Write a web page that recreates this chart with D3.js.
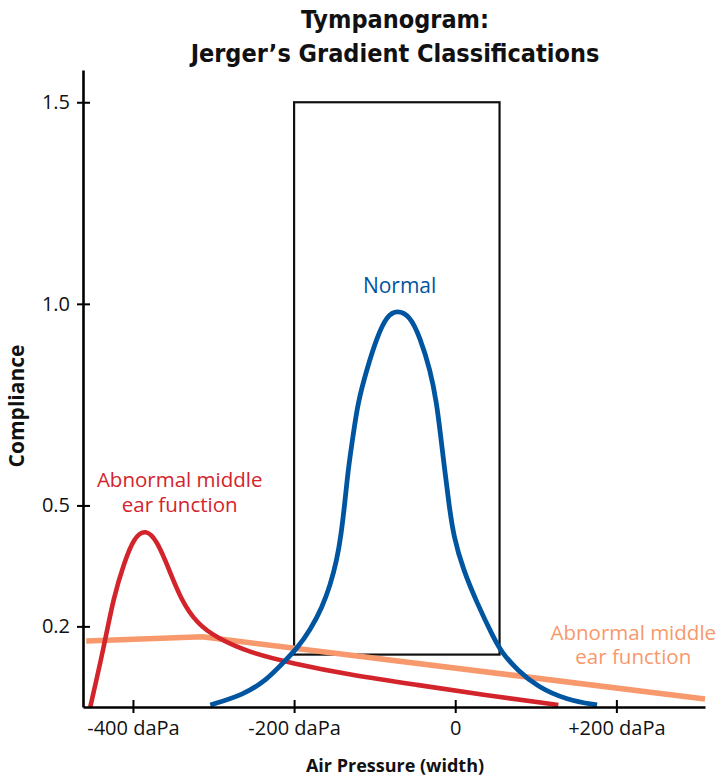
<!DOCTYPE html>
<html>
<head>
  <meta charset="utf-8">
  <title>Tympanogram</title>
  <script src="https://cdn.jsdelivr.net/npm/d3@7"></script>
  <style>
    body { margin: 0; background: #fff; }
    svg text { font-family: "Open Sans", sans-serif; }
    .titulo { font-family: "Liberation Sans Narrow", "DejaVu Sans Condensed", sans-serif; font-weight: bold; font-size: 25px; fill: #111; }
  </style>
</head>
<body>
<div id="grafico"></div>
<script>
// valores (daPa, compliance)
var normalX = [-304, -263, -234, -214, -196, -180, -165, -155, -147, -142, -137, -133, -127, -121, -110, -97, -85, -72,
               -56, -44, -31, -23, -18, -13, -8, -2, 10, 27, 47, 58, 77, 102, 139, 176];
var normalY = [0.005, 0.030, 0.067, 0.109, 0.146, 0.191, 0.248, 0.303, 0.365, 0.422, 0.506, 0.588, 0.670, 0.754, 0.836, 0.918, 0.970, 0.985,
               0.970, 0.918, 0.836, 0.754, 0.670, 0.588, 0.506, 0.422, 0.340, 0.258, 0.174, 0.134, 0.092, 0.050, 0.017, 0.005];

var rojoX = [-453, -436, -424, -411, -399, -384, -370, -355, -340, -321, -296, -254, -204, -129, -48, 36, 128];
var rojoY = [0.000, 0.149, 0.273, 0.357, 0.420, 0.442, 0.412, 0.340, 0.265, 0.208, 0.171, 0.134, 0.109, 0.079, 0.055, 0.030, 0.005];

var naranjaX = [-458, -314, 310];
var naranjaY = [0.164, 0.174, 0.020];

// caja del rango normal
var cajaX = [-200, 55];
var cajaY = [0.13, 1.5];

var ticksY = [0.2, 0.5, 1.0, 1.5];
var ticksX = [-400, -200, 0, 200];
var etiquetasX = ["-400 daPa", "-200 daPa", "0", "+200 daPa"];

var titulo = ["Tympanogram:", "Jerger\u2019s Gradient Classifications"];
var textoRojo = ["Abnormal middle", "ear function"];
var textoNaranja = ["Abnormal middle", "ear function"];

var azul = "#0055a0", rojo = "#d3242c", naranja = "#f7996c";

var svg = d3.select("div#grafico").append("svg")
  .attr("width", 720)
  .attr("height", 777);

var x = d3.scaleLinear().domain([-462, 310]).range([83, 705]);
var y = d3.scaleLinear().domain([0, 1.58]).range([707, 70]);

function puntos(xs, ys) { return xs.map(function(d, i) { return [d, ys[i]]; }); }

var linea = d3.line()
  .x(function(d) { return x(d[0]); })
  .y(function(d) { return y(d[1]); });

// titulo
var tit = svg.append("text")
  .attr("class", "titulo")
  .attr("text-anchor", "middle");
tit.selectAll("tspan").data(titulo).enter().append("tspan")
  .attr("x", 395)
  .attr("y", function(d, i) { return 28 + i * 34; })
  .text(function(d) { return d; });

// caja
svg.append("rect")
  .attr("x", x(cajaX[0]))
  .attr("y", y(cajaY[1]))
  .attr("width", x(cajaX[1]) - x(cajaX[0]))
  .attr("height", y(cajaY[0]) - y(cajaY[1]))
  .attr("fill", "none")
  .attr("stroke", "#111")
  .attr("stroke-width", 2.2);

// curvas
svg.append("path").datum(puntos(naranjaX, naranjaY))
  .attr("d", linea.curve(d3.curveLinear))
  .attr("fill", "none").attr("stroke", naranja).attr("stroke-width", 5.5);

linea.curve(d3.curveBasis);

svg.append("path").datum(puntos(rojoX, rojoY))
  .attr("d", linea)
  .attr("fill", "none").attr("stroke", rojo).attr("stroke-width", 4.6);

svg.append("path").datum(puntos(normalX, normalY))
  .attr("d", linea)
  .attr("fill", "none").attr("stroke", azul).attr("stroke-width", 4.8);

// ejes
var ejeY = svg.append("g").attr("class", "eje")
  .attr("transform", "translate(" + x(-462) + ",0)")
  .call(d3.axisLeft(y).tickValues(ticksY).tickFormat(d3.format(".1f")).tickSize(6).tickSizeOuter(0).tickPadding(7));
ejeY.selectAll(".tick line").attr("x1", 7).attr("stroke-width", 2);
ejeY.select(".domain").attr("stroke-width", 2.6);

var ejeX = svg.append("g").attr("class", "eje")
  .attr("transform", "translate(0," + y(0) + ")")
  .call(d3.axisBottom(x).tickValues(ticksX).tickFormat(function(d, i) { return etiquetasX[i]; })
        .tickSize(6).tickSizeOuter(0).tickPadding(8));
ejeX.selectAll(".tick line").attr("y1", -7).attr("stroke-width", 2);
ejeX.select(".domain").attr("stroke-width", 2.6);

svg.selectAll(".eje text").attr("fill", "#111").style("font-size", "20px").style("font-family", "'Open Sans', sans-serif");

// titulos de ejes
svg.append("text")
  .attr("x", 395).attr("y", 772)
  .attr("text-anchor", "middle")
  .style("font-weight", "bold").style("font-size", "18px").attr("fill", "#111")
  .text("Air Pressure (width)");

svg.append("text")
  .attr("transform", "translate(24,406) rotate(-90)")
  .attr("text-anchor", "middle")
  .style("font-weight", "bold").style("font-size", "21px").attr("fill", "#111")
  .text("Compliance");

// etiquetas de las curvas
svg.append("text")
  .attr("x", x(-69)).attr("y", y(1.027))
  .attr("text-anchor", "middle")
  .style("font-size", "21px").attr("fill", azul)
  .text("Normal");

function etiqueta(lineas, cx, cy, paso, color) {
  var t = svg.append("text")
    .attr("text-anchor", "middle")
    .style("font-size", "20.5px").attr("fill", color);
  t.selectAll("tspan").data(lineas).enter().append("tspan")
    .attr("x", x(cx))
    .attr("y", function(d, i) { return y(cy) + i * paso; })
    .text(function(d) { return d; });
}

etiqueta(textoRojo, -342, 0.546, 25, rojo);
etiqueta(textoNaranja, 221, 0.166, 24, naranja);
</script>
</body>
</html>
